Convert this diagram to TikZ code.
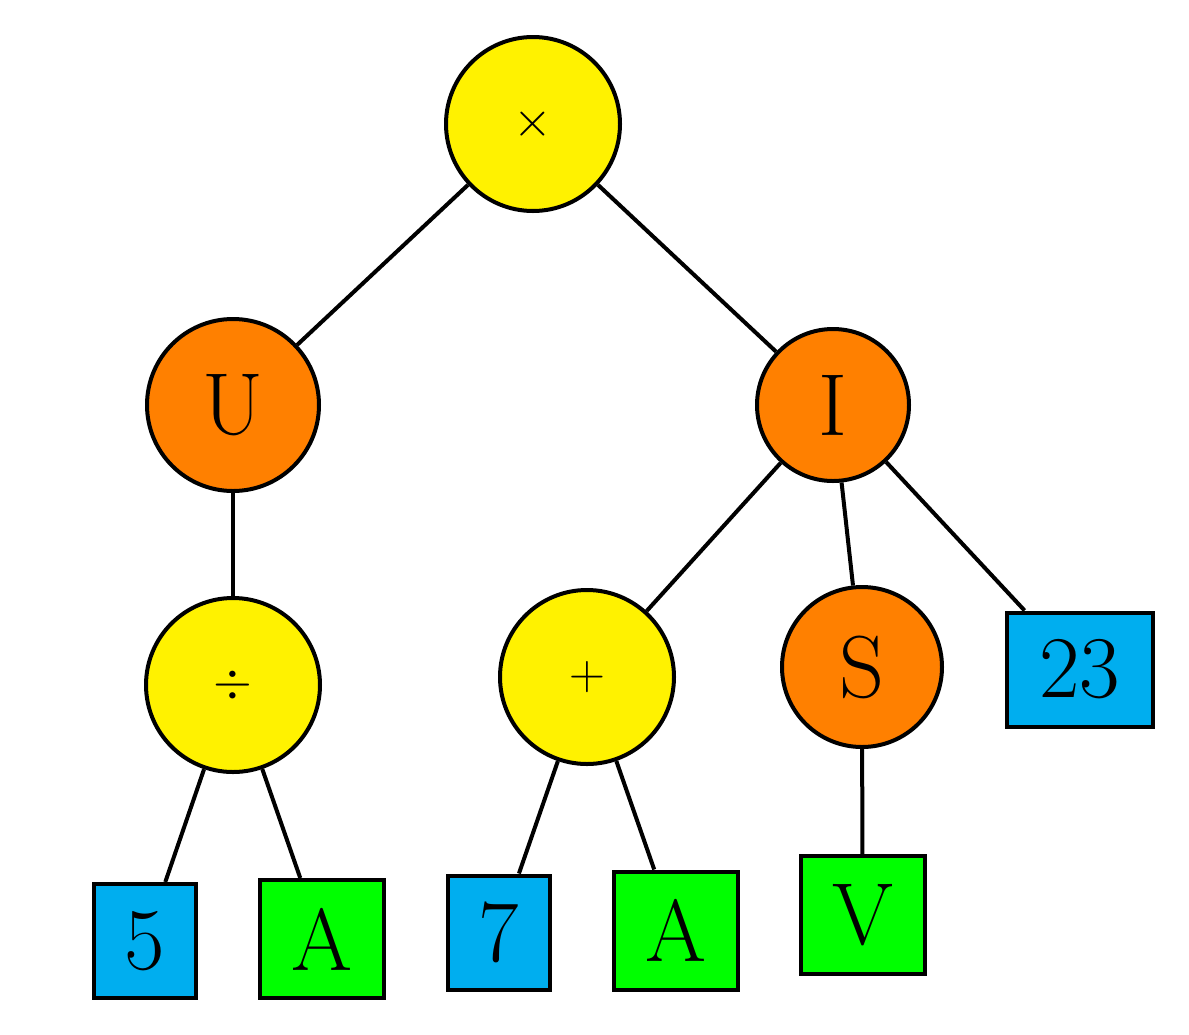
\documentclass[tikz,border=0pt]{standalone}
\usepackage{tikz}
\definecolor{cy}{HTML}{FFF200}
\definecolor{co}{HTML}{FF8000}
\definecolor{cb}{HTML}{00AEEF}
\definecolor{cg}{HTML}{00FF00}
\begin{document}
\begin{tikzpicture}[x=0.5pt,y=-0.5pt,line width=2pt,
 every node/.style={draw=black,line width=2pt,inner sep=0pt,font=\fontsize{44}{50}\selectfont},
 circ/.style={circle,minimum size=#1*1pt},
 box/.style n args={2}{rectangle,minimum width=#1*1pt,minimum height=#2*1pt}]
\useasboundingbox (0,0) rectangle (1189,1034);
\node[circ=87,fill=cy] (m) at (533,124) {$\times$};
\node[circ=86,fill=co] (u) at (233,405) {U};
\node[circ=76,fill=co] (i) at (833,405) {I};
\node[circ=87,fill=cy] (d) at (233,685) {$\div$};
\node[circ=87,fill=cy] (p) at (587,677) {$+$};
\node[circ=80,fill=co] (s) at (862,667) {S};
\node[box={73}{57},fill=cb] (n23) at (1079.5,669.5) {23};
\node[box={51}{57},fill=cb] (n5) at (145,941) {5};
\node[box={62}{59},fill=cg] (a1) at (321.5,939) {A};
\node[box={51}{57},fill=cb] (n7) at (498.5,932.5) {7};
\node[box={62}{59},fill=cg] (a2) at (675.5,930.5) {A};
\node[box={62}{59},fill=cg] (v) at (862.5,915) {V};
\draw (m) -- (u); \draw (m) -- (i);
\draw (u) -- (d);
\draw (i) -- (p); \draw (i) -- (s); \draw (i) -- (n23);
\draw (d) -- (n5); \draw (d) -- (a1);
\draw (p) -- (n7); \draw (p) -- (a2);
\draw (s) -- (v);
\end{tikzpicture}
\end{document}
